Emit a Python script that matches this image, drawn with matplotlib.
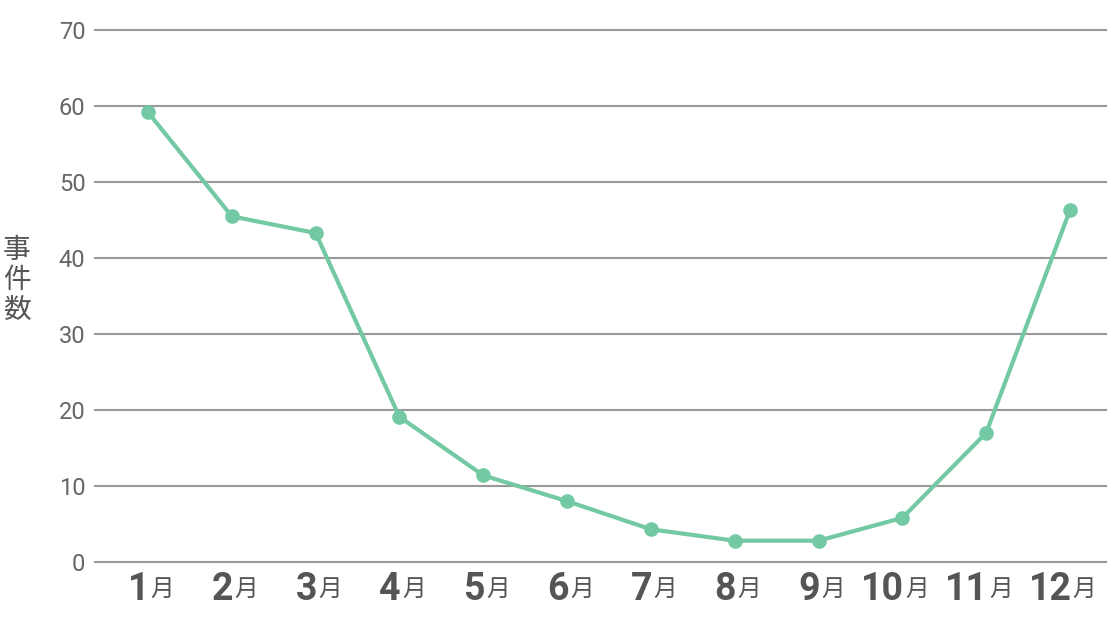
import matplotlib
matplotlib.use('Agg')
import matplotlib.pyplot as plt
import matplotlib.transforms as mtransforms

# Data
months = [1, 2, 3, 4, 5, 6, 7, 8, 9, 10, 11, 12]
counts = [59.2, 45.5, 43.3, 19.1, 11.4, 8.0, 4.3, 2.8, 2.8, 5.8, 17.0, 46.3]
yticks = [0, 10, 20, 30, 40, 50, 60, 70]

line_color = '#72C9A4'
text_color = '#555555'
grid_color = '#999999'

fig = plt.figure(figsize=(11.2, 6.3), dpi=100)
ax = fig.add_axes([0.085, 0.108, 0.9025, 0.844])

x = list(range(len(months)))
ax.plot(x, counts, color=line_color, linewidth=3, marker='o', markersize=9.5,
        zorder=3, clip_on=False)

ax.set_ylim(0, 70)
ax.set_xlim(-0.63, 11.43)
ax.set_yticks(yticks)
ax.set_yticklabels([str(v) for v in yticks], fontsize=17, color='#666666',
                   family=['Roboto', 'DejaVu Sans'])
ax.tick_params(axis='y', length=0, pad=7)
ax.set_xticks([])

for v in yticks:
    ax.axhline(v, color=grid_color, linewidth=1.5, zorder=1, clip_on=False)

for side in ['top', 'right', 'left', 'bottom']:
    ax.spines[side].set_visible(False)

# month labels: bold number + smaller 月
trans = mtransforms.blended_transform_factory(ax.transData, ax.transAxes)
for i, m in enumerate(months):
    ax.annotate(str(m), xy=(i, 0), xycoords=trans, xytext=(1, -20),
                textcoords='offset points', ha='right', va='center',
                fontsize=27, fontweight='bold', color=text_color,
                family=['Roboto', 'DejaVu Sans'])
    ax.annotate('月', xy=(i, 0), xycoords=trans, xytext=(2, -20),
                textcoords='offset points', ha='left', va='center',
                fontsize=17, color=text_color,
                family=['Noto Sans CJK JP', 'DejaVu Sans'])

fig.text(0.015, 0.555, '事\n件\n数', ha='center', va='center', fontsize=20,
         color=text_color, linespacing=1.0,
         family=['Noto Sans CJK JP', 'DejaVu Sans'])

plt.savefig('out.png', dpi=100)
